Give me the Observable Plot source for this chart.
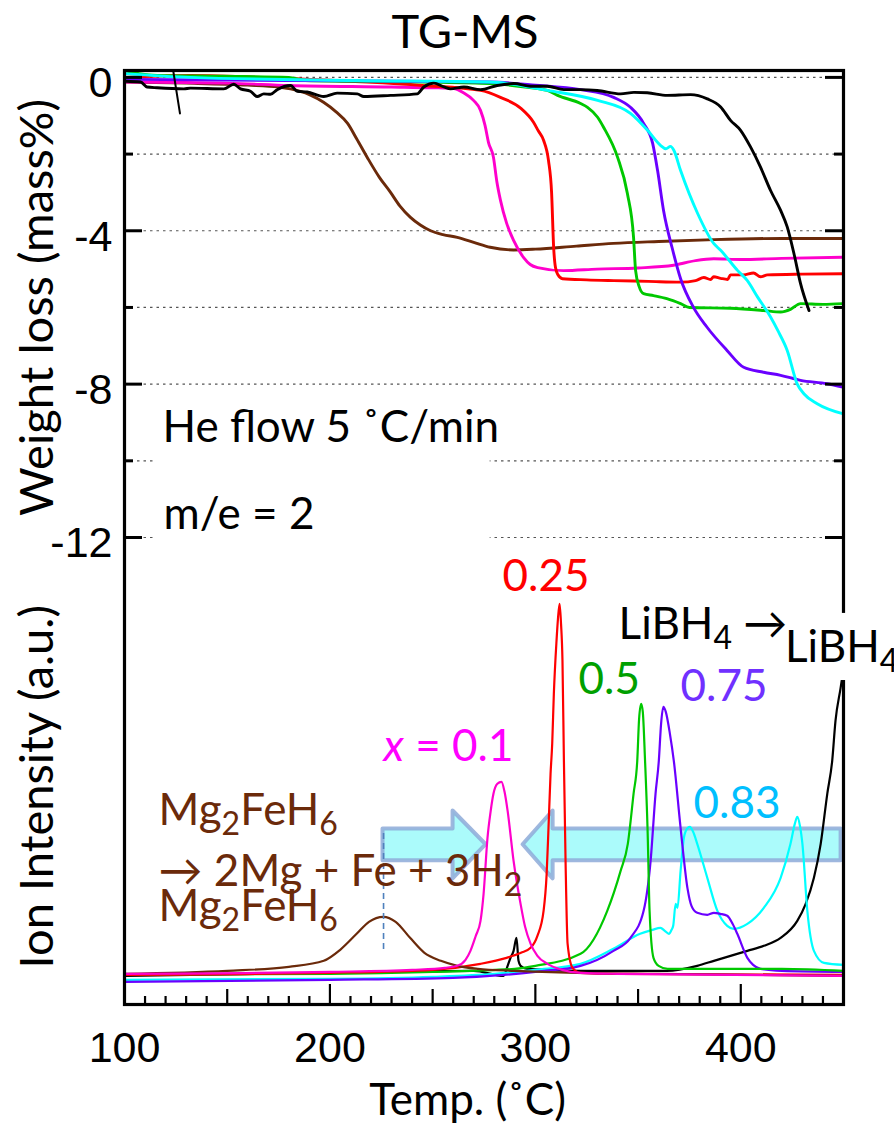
<!DOCTYPE html>
<html><head><meta charset="utf-8">
<script src="https://cdn.jsdelivr.net/npm/d3@7"></script>
<script src="https://cdn.jsdelivr.net/npm/@observablehq/plot@0.6"></script>
<style>
body{margin:0;background:#fff;}
#title{height:60px;line-height:60px;font-family:Lato,'Open Sans',sans-serif;font-size:47px;text-align:center;padding-left:36px;width:858px;color:#000;}
</style></head><body>
<div id="title">TG-MS</div>
<div id="chart"></div>
<script>
// ---- Tick labels ----
const xTickLabels = [100, 200, 300, 400];
const yTickLabels = [0, -4, -8, -12];
const yMinorTicks = [-2, -6, -10];
const gridValues = [0, -2, -4, -6, -8, -10, -12];

// ---- TG curves: [temperature °C, weight change mass%] ----
const tgMg2FeH6 = [[100,-0.12],[130,-0.15],[160,-0.2],[175,-0.25],[180.8,-0.3],[190,-0.45],[196.9,-0.65],[203,-0.9],[208.6,-1.2],[213,-1.6],[218.3,-2.1],[224,-2.6],[229.5,-3.0],[234,-3.35],[239.2,-3.65],[244,-3.85],[249,-4.0],[255,-4.1],[262,-4.17],[270,-4.3],[278,-4.43],[289.4,-4.5],[300,-4.48],[320,-4.4],[338,-4.33],[360,-4.28],[387,-4.23],[420,-4.2],[450,-4.2]];
const tgX010 = [[100,-0.12],[150,-0.15],[180,-0.21],[230,-0.25],[250,-0.27],[260.2,-0.29],[265,-0.4],[269.9,-0.6],[273.3,-0.86],[275.5,-1.25],[277.2,-1.7],[279.6,-2.08],[281.2,-2.7],[283,-3.2],[286,-3.8],[289.4,-4.25],[294.3,-4.7],[297.5,-4.88],[301.1,-4.96],[313.7,-5.04],[330,-5.0],[350,-4.97],[367.3,-4.9],[370.7,-4.86],[378,-4.78],[386.8,-4.73],[400,-4.75],[420,-4.72],[449.6,-4.69]];
const tgX025 = [[100,0],[132,0.05],[180,-0.03],[245,-0.21],[273.3,-0.34],[283,-0.52],[292.8,-0.8],[299.1,-1.17],[301.5,-1.4],[304,-1.64],[306.4,-2.17],[307.9,-3.0],[308.9,-4.43],[309.8,-4.96],[311,-5.15],[313.2,-5.25],[325,-5.28],[338.1,-5.3],[355,-5.32],[370.7,-5.34],[378,-5.3],[382,-5.22],[385.3,-5.27],[386.8,-5.2],[390.2,-5.24],[393.6,-5.27],[395,-5.15],[401.4,-5.15],[406.2,-5.1],[409.6,-5.2],[413,-5.15],[430,-5.13],[449.6,-5.12]];
const tgX050 = [[100,0.18],[107,0.1],[116,0.05],[148,0.03],[180,0.0],[188,-0.08],[245,-0.12],[278,-0.16],[295,-0.25],[305.8,-0.34],[310.8,-0.47],[322,-0.68],[325.4,-0.78],[330.3,-1.04],[333.2,-1.3],[340,-2.08],[344.8,-3.03],[347.8,-4.17],[348.8,-5.04],[350.5,-5.45],[352.7,-5.64],[357.5,-5.69],[364,-5.77],[370.7,-5.9],[375,-6.0],[395,-6.02],[411.1,-6.08],[419.4,-6.12],[424.2,-6.05],[429.1,-5.9],[440,-5.92],[449.6,-5.9]];
const tgX075 = [[100,-0.05],[180,-0.08],[278,-0.12],[300,-0.2],[322,-0.32],[338.1,-0.52],[346.3,-0.78],[352.7,-1.2],[357.1,-1.72],[359.5,-2.43],[362.4,-3.47],[366.6,-4.45],[370.7,-5.25],[376.9,-5.99],[383.5,-6.51],[393.3,-7.12],[401.4,-7.56],[411.1,-7.69],[419.4,-7.77],[429.1,-7.9],[442,-7.99],[449.6,-8.08]];
const tgX083 = [[100,0.1],[132,0.0],[213,-0.08],[278,-0.12],[305.9,-0.34],[330.3,-0.6],[346.3,-0.94],[354.6,-1.38],[360.9,-1.77],[363.5,-1.86],[365.8,-1.8],[367.4,-1.9],[370.7,-2.43],[379,-3.55],[386.8,-4.33],[390.2,-4.51],[398.5,-5.04],[403.2,-5.3],[408.2,-5.73],[414.5,-6.25],[418,-6.6],[422.6,-7.12],[427.5,-8.0],[430.7,-8.25],[437.2,-8.51],[449.6,-8.77]];
const tgLiBH4 = [[100.5,-0.1],[107.8,-0.12],[111,-0.25],[115.9,-0.27],[128.9,-0.3],[132.1,-0.28],[148.3,-0.3],[153.2,-0.18],[156.5,-0.3],[161.3,-0.36],[164.6,-0.5],[167.8,-0.43],[171.1,-0.44],[174.3,-0.32],[180.8,-0.21],[184.1,-0.36],[188.9,-0.38],[197,-0.5],[203.5,-0.41],[213.3,-0.43],[216.5,-0.5],[229.5,-0.47],[242.5,-0.43],[245.7,-0.25],[250.6,-0.15],[255.5,-0.25],[258.7,-0.3],[265.2,-0.25],[273.3,-0.32],[281.4,-0.21],[289.5,-0.16],[297.7,-0.23],[305.8,-0.23],[313.9,-0.32],[322,-0.32],[330.1,-0.34],[341.5,-0.43],[348,-0.39],[354.5,-0.4],[364.2,-0.47],[375.6,-0.45],[383.7,-0.56],[390.2,-0.77],[395,-1.12],[399.9,-1.38],[404.8,-1.82],[409.6,-2.34],[414.5,-2.95],[419.4,-3.47],[422.6,-3.9],[425.9,-4.6],[429.1,-5.38],[433.2,-6.08]];
const tgLiBH4Stray = [[123.7,0.18],[127,-0.94]];

// ---- MS (m/e = 2) curves: [temperature °C, ion intensity a.u.] ----
const msMg2FeH6 = [[100,0],[150,3],[180,7],[197,13],[205,24],[213,40],[219,52],[226,57],[232,52],[239,36],[246,21],[254,13],[262,8],[272,5],[290,3],[320,1],[360,0],[450,-2]];
const msX010 = [[100,0],[200,2],[240,4],[256,6],[262,8],[266,14],[268.4,23],[271,38],[273.3,53],[274.8,80],[276.7,136],[278.2,162],[279.6,180],[281.5,190],[283.5,192],[285,182],[286.5,163],[289.4,113],[292.8,70],[295,47],[297.7,30],[301,18],[305.9,10],[313,4],[322,1],[340,0],[450,-2]];
const msX025 = [[100,-1],[200,1],[250,4],[273.3,10],[286,16],[293,21],[297.7,26],[301,38],[304,63],[305.5,100],[306.4,146],[307.4,200],[308.2,230],[309,280],[310.3,333],[311,355],[311.8,370],[312.5,350],[313.2,313],[313.9,213],[314.7,113],[315.7,30],[318.1,6],[322,1],[340,0],[450,-1]];
const msX050 = [[100,-1],[200,0],[250,2],[290,5],[300,8],[322,20],[335,63],[341.5,103],[345,130],[347.8,180],[349.6,213],[350.5,255],[351.5,270],[352.3,262],[353.4,213],[354.6,146],[355.6,63],[357.5,16],[360,8],[364.4,5],[400,5],[420,5],[450,3]];
const msX075 = [[100,-8],[200,-6],[260,-4],[300,2],[322,8],[338,23],[346.3,36],[352.7,63],[356.1,113],[358.5,180],[360.1,213],[361.2,250],[362.3,267],[363.5,262],[365.5,240],[367.4,213],[370.7,146],[374.1,85],[376,68],[378.8,61],[383.7,59],[386.9,61],[390,60],[393.4,58],[396,50],[398.3,40],[403.2,16],[406,9],[409.6,5],[420,3],[450,2]];
const msX083 = [[100,-6],[200,-5],[250,-3],[280,0],[300,4],[322,10],[338,25],[351,40],[357,44],[360.9,46],[363,43],[365,40],[366.3,44],[367.1,48],[368.3,70],[369.2,66],[370.7,103],[372.3,136],[373.8,145],[375.2,147],[376.8,142],[378.8,130],[383.7,96],[388.6,63],[393.4,48],[396.6,45],[403.2,50],[411.2,66],[419.4,96],[424.2,130],[426.3,150],[427.5,157],[428.8,148],[430,130],[432.4,63],[435.6,23],[440.5,11],[450,9]];
const msLiBH4 = [[100,-2],[200,1],[270,3],[284.5,-2],[286.5,8],[287.9,16],[289.4,23],[290.8,36],[291.8,13],[292.8,8],[296,5],[322,3],[355,3],[364,3],[378.8,8],[386.9,13],[395,18],[403.2,23],[411.2,28],[419.4,36],[427.5,53],[431.6,70],[435.6,96],[438.9,130],[442.1,180],[444.5,213],[446.1,253],[448.6,286],[450,305]];

// ---- styles ----
const brown = "#6b2a0a";
const seriesTG = [
  {data: tgMg2FeH6, color: brown},
  {data: tgX010, color: "#ff00cc"},
  {data: tgX025, color: "#ff0000"},
  {data: tgX050, color: "#00c800"},
  {data: tgX075, color: "#6a00ff"},
  {data: tgX083, color: "#00ffff"},
  {data: tgLiBH4, color: "#000000"}
];
const seriesMS = [
  {data: msLiBH4, color: "#000000"},
  {data: msX083, color: "#00ffff"},
  {data: msX075, color: "#6a00ff"},
  {data: msX050, color: "#00c800"},
  {data: msX025, color: "#ff0000"},
  {data: msMg2FeH6, color: brown},
  {data: msX010, color: "#ff00cc"}
];

// ---- annotations (data coordinates) ----
const annotations = [
  {text: "He flow 5 ˚C/min", t: 118.5, v: -9.13, color: "#000"},
  {text: "m/e = 2", t: 119, v: -11.4, color: "#000"},
  {text: "0.25", t: 284.0, v: -13.02, color: "#ff0000"},
  {text: "0.5", t: 321.0, v: -15.71, color: "#00a000"},
  {text: "0.75", t: 370.7, v: -15.89, color: "#7030ff"},
  {text: "*x* = 0.1", t: 226.1, v: -17.45, color: "#ff00ff"},
  {text: "0.83", t: 377.0, v: -18.94, color: "#00bfff"},
  {text: "LiBH_4 →", t: 340.5, v: -14.27, color: "#000"},
  {text: "LiBH_4", t: 421.5, v: -14.87, color: "#000"},
  {text: "Mg_2FeH_6", t: 116.6, v: -19.12, color: brown},
  {text: "→ 2Mg + Fe + 3H_2", t: 116.6, v: -20.71, color: brown},
  {text: "Mg_2FeH_6", t: 116.6, v: -21.63, color: brown}
];
const whiteBoxes = [
  {t1: 115, t2: 278, v1: -8.43, v2: -10.25},
  {t1: 115, t2: 278, v1: -10.77, v2: -12.29}
];
const coverBox = [{t1: 419.4, t2: 475, v1: -13.98, v2: -15.73}];
const rightArrow = [[225.6,-19.59],[259.7,-19.59],[259.7,-19.12],[275.8,-20.0],[259.7,-20.89],[259.7,-20.42],[225.6,-20.42]];
const leftArrow = [[448.6,-19.59],[308.4,-19.59],[308.4,-19.12],[293.8,-20.0],[308.4,-20.89],[308.4,-20.42],[448.6,-20.42]];
const peakMarker = [{t: 226.1, top: -19.72, bottom: -22.85}];

// ---- layout ----
const W = 894, H = 1065, ML = 124, MR = 51, MT = 10, MB = 121;
const xDom = [100, 450], yDom = [-24.18, 0.18];
const pxX = (W - ML - MR) / (xDom[1] - xDom[0]);
const pxY = (H - MT - MB) / (yDom[1] - yDom[0]);
const MS_BASE = -23.38, MS_SCALE = 1 / pxY;
const xMedium = [150, 250, 350];
const xMinor = d3.range(110, 450, 10).filter(t => t % 50 !== 0);
const TXT = "Lato, 'Open Sans', sans-serif";
const NUM = "'Liberation Sans', Arial, sans-serif";

const marks = [];
marks.push(Plot.ruleY(gridValues, {stroke: "#555", strokeWidth: 1.2, strokeDasharray: "2.5,4"}));
marks.push(Plot.rect(whiteBoxes, {x1: "t1", x2: "t2", y1: "v1", y2: "v2", fill: "white"}));
for (const a of [rightArrow, leftArrow]) {
  marks.push(Plot.line(a, {x: d => d[0], y: d => d[1], curve: "linear-closed", fill: "#abfbfb", stroke: "#8eaad8", strokeWidth: 4, strokeOpacity: 0.85}));
}
for (const s of seriesTG) {
  marks.push(Plot.line(s.data, {x: d => d[0], y: d => d[1], stroke: s.color, strokeWidth: 2.9, curve: "monotone-x"}));
}
marks.push(Plot.line(tgLiBH4Stray, {x: d => d[0], y: d => d[1], stroke: "#000", strokeWidth: 2}));
for (const s of seriesMS) {
  marks.push(Plot.line(s.data, {x: d => d[0], y: d => MS_BASE + d[1] * MS_SCALE, stroke: s.color, strokeWidth: 2.2, curve: "monotone-x"}));
}
marks.push(Plot.ruleX(peakMarker, {x: "t", y1: "top", y2: "bottom", stroke: "#4f81bd", strokeWidth: 1.6, strokeDasharray: "6,4"}));
marks.push(Plot.frame({stroke: "#000", strokeWidth: 3.2}));
// inward ticks, left and right
marks.push(Plot.ruleY(yTickLabels, {x1: xDom[0], x2: xDom[0] + 18 / pxX, stroke: "#000", strokeWidth: 3}));
marks.push(Plot.ruleY(yMinorTicks, {x1: xDom[0], x2: xDom[0] + 9 / pxX, stroke: "#000", strokeWidth: 3}));
marks.push(Plot.ruleY(yTickLabels, {x1: xDom[1] - 18 / pxX, x2: xDom[1], stroke: "#000", strokeWidth: 3}));
marks.push(Plot.ruleY(yMinorTicks, {x1: xDom[1] - 9 / pxX, x2: xDom[1], stroke: "#000", strokeWidth: 3}));
// inward ticks, bottom
marks.push(Plot.ruleX(xTickLabels, {y1: yDom[0], y2: yDom[0] + 20 / pxY, stroke: "#000", strokeWidth: 2.2}));
marks.push(Plot.ruleX(xMedium, {y1: yDom[0], y2: yDom[0] + 15 / pxY, stroke: "#000", strokeWidth: 2.2}));
marks.push(Plot.ruleX(xMinor, {y1: yDom[0], y2: yDom[0] + 8 / pxY, stroke: "#000", strokeWidth: 2.2}));
marks.push(Plot.rect(coverBox, {x1: "t1", x2: "t2", y1: "v1", y2: "v2", fill: "white"}));
// tick labels
marks.push(Plot.text(yTickLabels, {x: xDom[0], y: d => d, text: d => String(d), textAnchor: "end", lineAnchor: "middle", dx: -12, dy: 6, fontSize: 43, fontFamily: NUM, fill: "#000"}));
marks.push(Plot.text(xTickLabels, {x: d => d, frameAnchor: "bottom", lineAnchor: "middle", text: d => String(d), dy: 44, fontSize: 43, fontFamily: NUM, fill: "#000"}));
// axis titles
marks.push(Plot.text(["Weight loss (mass%)"], {x: xDom[0], y: -6, dx: -87, rotate: -90, lineAnchor: "middle", text: d => d, fontSize: 47, fontFamily: TXT, fill: "#000"}));
marks.push(Plot.text(["Ion Intensity (a.u.)"], {x: xDom[0], y: -18.5, dx: -87, rotate: -90, lineAnchor: "middle", text: d => d, fontSize: 47, fontFamily: TXT, fill: "#000"}));
marks.push(Plot.text(["Temp. (˚C)"], {x: 267, frameAnchor: "bottom", lineAnchor: "middle", dy: 96, text: d => d, fontSize: 44, fontFamily: TXT, fill: "#000"}));
// annotations
marks.push(Plot.text(annotations, {x: "t", y: "v", text: "text", fill: "color", textAnchor: "start", lineAnchor: "middle", fontSize: 44, fontFamily: TXT}));

const plot = Plot.plot({
  width: W, height: H,
  marginLeft: ML, marginRight: MR, marginTop: MT, marginBottom: MB,
  x: {domain: xDom, axis: null},
  y: {domain: yDom, axis: null},
  style: {background: "white", overflow: "visible"},
  marks
});
document.getElementById("chart").append(plot);

// rich text: _d -> subscript, *x* -> italic
const NS = "http://www.w3.org/2000/svg";
plot.querySelectorAll("text").forEach(t => {
  if (t.children.length) return;
  const s = t.textContent;
  if (!/_\d|\*[^*]+\*/.test(s)) return;
  t.textContent = "";
  let shifted = false;
  for (const p of s.split(/(_\d|\*[^*]+\*)/)) {
    if (!p) continue;
    const ts = document.createElementNS(NS, "tspan");
    if (p.startsWith("_")) {
      ts.textContent = p.slice(1);
      ts.setAttribute("font-size", "32");
      ts.setAttribute("dy", "10");
      shifted = true;
    } else {
      if (p.startsWith("*")) { ts.textContent = p.slice(1, -1); ts.setAttribute("font-style", "italic"); }
      else ts.textContent = p;
      if (shifted) { ts.setAttribute("dy", "-10"); shifted = false; }
    }
    t.appendChild(ts);
  }
});
</script></body></html>
